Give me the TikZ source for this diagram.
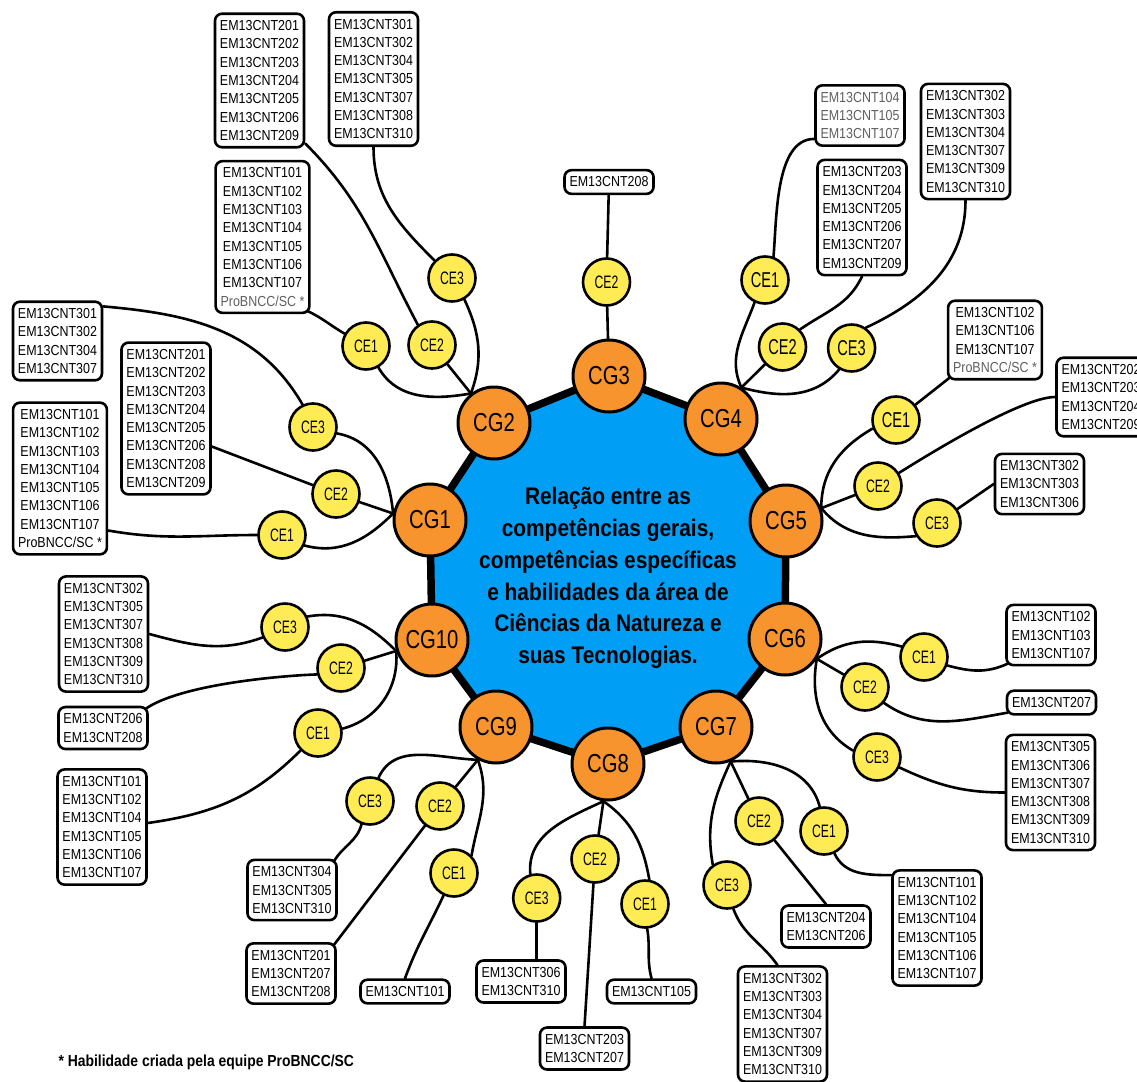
\documentclass[tikz,border=0pt]{standalone}
\usepackage{fontspec}
\setmainfont{Liberation Sans}
\newfontfamily\boxfont{Liberation Sans}[FakeStretch=0.86]
\newfontfamily\cefont{Liberation Sans}[FakeStretch=0.68]
\newfontfamily\cgfont{Liberation Sans}[FakeStretch=0.78]
\newfontfamily\titlefont{Liberation Sans}[FakeStretch=0.87]
\definecolor{cblue}{RGB}{0,158,245}
\definecolor{corange}{RGB}{247,148,45}
\definecolor{cyellow}{RGB}{255,236,85}
\definecolor{cgray}{RGB}{95,95,95}
\tikzset{
 cgnode/.style={circle, draw, line width=3pt, fill=corange, minimum size=72pt, inner sep=0pt, font=\cgfont\fontsize{26}{26}\selectfont},
 cenode/.style={circle, draw, line width=2.6pt, fill=cyellow, minimum size=47pt, inner sep=0pt, font=\cefont\fontsize{18}{18}\selectfont},
 cebig/.style={cenode, font=\cefont\fontsize{21.5}{21.5}\selectfont},
 hbox/.style={draw, line width=2.6pt, rounded corners=7pt, fill=white, align=center, inner xsep=5pt, inner ysep=6.7pt, font=\boxfont\fontsize{14.5}{18.3}\selectfont},
 conn/.style={line width=2.6pt, line cap=round},
}
\newcommand{\gr}[1]{{\color{cgray}#1}}
\begin{document}
\begin{tikzpicture}[x=1pt,y=1pt]
\useasboundingbox (0,0) rectangle (1137,-1081);
% decagon vertices
\coordinate (p1) at (430,-520);
\coordinate (p2) at (494,-423);
\coordinate (p3) at (609,-376);
\coordinate (p4) at (721,-419);
\coordinate (p5) at (786,-521);
\coordinate (p6) at (785,-639);
\coordinate (p7) at (716,-727);
\coordinate (p8) at (608,-764);
\coordinate (p9) at (496,-727);
\coordinate (p10) at (432,-640);
\draw[line width=7.5pt, line join=round, fill=cblue] (p1)--(p2)--(p3)--(p4)--(p5)--(p6)--(p7)--(p8)--(p9)--(p10)--cycle;
\node[align=center, font=\titlefont\bfseries\fontsize{24}{31.7}\selectfont] (title) at (608,-578)
 {Relação entre as\\competências gerais,\\competências específicas\\e habilidades da área de\\Ciências da Natureza e\\suas Tecnologias.};
% CG nodes
\node[cgnode] (cg1) at (p1) {CG1};
\node[cgnode] (cg2) at (p2) {CG2};
\node[cgnode] (cg3) at (p3) {CG3};
\node[cgnode] (cg4) at (p4) {CG4};
\node[cgnode] (cg5) at (p5) {CG5};
\node[cgnode] (cg6) at (p6) {CG6};
\node[cgnode] (cg7) at (p7) {CG7};
\node[cgnode] (cg8) at (p8) {CG8};
\node[cgnode] (cg9) at (p9) {CG9};
\node[cgnode] (cg10) at (p10) {CG10};
% CE nodes
\node[cenode] (c1c1) at (282,-535) {CE1};
\node[cenode] (c1c2) at (336,-494) {CE2};
\node[cenode] (c1c3) at (313,-427) {CE3};
\node[cenode] (c2c1) at (366,-346) {CE1};
\node[cenode] (c2c2) at (432,-345) {CE2};
\node[cenode] (c2c3) at (452,-278) {CE3};
\node[cenode] (c3c2) at (606.5,-282) {CE2};
\node[cebig] (c4c1) at (765,-280) {CE1};
\node[cebig] (c4c2) at (782.5,-347) {CE2};
\node[cebig] (c4c3) at (851.6,-348) {CE3};
\node[cebig] (c5c1) at (896,-420) {CE1};
\node[cenode] (c5c2) at (878,-486) {CE2};
\node[cenode] (c5c3) at (937,-523) {CE3};
\node[cenode] (c6c1) at (924,-657) {CE1};
\node[cenode] (c6c2) at (865,-687) {CE2};
\node[cenode] (c6c3) at (877,-757) {CE3};
\node[cenode] (c7c1) at (824,-831) {CE1};
\node[cenode] (c7c2) at (759,-821) {CE2};
\node[cenode] (c7c3) at (727,-885) {CE3};
\node[cenode] (c8c1) at (645,-904) {CE1};
\node[cenode] (c8c2) at (595,-859) {CE2};
\node[cenode] (c8c3) at (536.7,-898) {CE3};
\node[cenode] (c9c1) at (454,-873) {CE1};
\node[cenode] (c9c2) at (440,-806) {CE2};
\node[cenode] (c9c3) at (370,-801) {CE3};
\node[cenode] (c10c1) at (318,-733) {CE1};
\node[cenode] (c10c2) at (341,-668) {CE2};
\node[cenode] (c10c3) at (285,-627) {CE3};
% boxes
\node[hbox] (bA) at (259.5,-80.5) {EM13CNT201\\EM13CNT202\\EM13CNT203\\EM13CNT204\\EM13CNT205\\EM13CNT206\\EM13CNT209};
\node[hbox] (bB) at (373.5,-79) {EM13CNT301\\EM13CNT302\\EM13CNT304\\EM13CNT305\\EM13CNT307\\EM13CNT308\\EM13CNT310};
\node[hbox] (bC) at (262.5,-237) {EM13CNT101\\EM13CNT102\\EM13CNT103\\EM13CNT104\\EM13CNT105\\EM13CNT106\\EM13CNT107\\\gr{ProBNCC/SC *}};
\node[hbox] (bD) at (57.5,-341) {EM13CNT301\\EM13CNT302\\EM13CNT304\\EM13CNT307};
\node[hbox] (bE) at (166,-418.5) {EM13CNT201\\EM13CNT202\\EM13CNT203\\EM13CNT204\\EM13CNT205\\EM13CNT206\\EM13CNT208\\EM13CNT209};
\node[hbox] (bF) at (60,-478.5) {EM13CNT101\\EM13CNT102\\EM13CNT103\\EM13CNT104\\EM13CNT105\\EM13CNT106\\EM13CNT107\\ProBNCC/SC *};
\node[hbox] (b208) at (609,-182) {EM13CNT208};
\node[hbox] (bG) at (860,-115.5) {\gr{EM13CNT104}\\\gr{EM13CNT105}\\\gr{EM13CNT107}};
\node[hbox] (bH) at (862,-217.5) {EM13CNT203\\EM13CNT204\\EM13CNT205\\EM13CNT206\\EM13CNT207\\EM13CNT209};
\node[hbox] (bI) at (965.5,-141.5) {EM13CNT302\\EM13CNT303\\EM13CNT304\\EM13CNT307\\EM13CNT309\\EM13CNT310};
\node[hbox] (bJ) at (995,-340) {EM13CNT102\\EM13CNT106\\EM13CNT107\\\gr{ProBNCC/SC *}};
\node[hbox] (bK) at (1101,-397) {EM13CNT202\\EM13CNT203\\EM13CNT204\\EM13CNT209};
\node[hbox] (bL) at (1039.5,-484) {EM13CNT302\\EM13CNT303\\EM13CNT306};
\node[hbox] (bT) at (1051,-635) {EM13CNT102\\EM13CNT103\\EM13CNT107};
\node[hbox] (bU) at (1051.5,-702.5) {EM13CNT207};
\node[hbox] (bV) at (1050.5,-792.5) {EM13CNT305\\EM13CNT306\\EM13CNT307\\EM13CNT308\\EM13CNT309\\EM13CNT310};
\node[hbox] (bX) at (937,-928) {EM13CNT101\\EM13CNT102\\EM13CNT104\\EM13CNT105\\EM13CNT106\\EM13CNT107};
\node[hbox] (bW) at (826,-926.5) {EM13CNT204\\EM13CNT206};
\node[hbox] (bY) at (782.5,-1024) {EM13CNT302\\EM13CNT303\\EM13CNT304\\EM13CNT307\\EM13CNT309\\EM13CNT310};
\node[hbox] (bZ) at (651.5,-991.5) {EM13CNT105};
\node[hbox] (bAA) at (584.5,-1048.5) {EM13CNT203\\EM13CNT207};
\node[hbox] (bS) at (521,-981.5) {EM13CNT306\\EM13CNT310};
\node[hbox] (bR) at (405,-991.5) {EM13CNT101};
\node[hbox] (bQ) at (291,-973.5) {EM13CNT201\\EM13CNT207\\EM13CNT208};
\node[hbox] (bP) at (292,-890) {EM13CNT304\\EM13CNT305\\EM13CNT310};
\node[hbox] (bM) at (103.5,-634) {EM13CNT302\\EM13CNT305\\EM13CNT307\\EM13CNT308\\EM13CNT309\\EM13CNT310};
\node[hbox] (bN) at (103,-728) {EM13CNT206\\EM13CNT208};
\node[hbox] (bO) at (102,-827) {EM13CNT101\\EM13CNT102\\EM13CNT104\\EM13CNT105\\EM13CNT106\\EM13CNT107};
\node[anchor=west, font=\titlefont\bfseries\fontsize{16}{16}\selectfont] (note) at (55,-1062) {* Habilidade criada pela equipe ProBNCC/SC};
% connectors CG1
\draw[conn] ([yshift=-6pt]bD.north east) to[out=-5,in=120] (c1c3.115);
\draw[conn] (c1c3.-15) to[out=-10,in=95] (cg1.170);
\draw[conn] ([yshift=-28pt]bE.east) -- (c1c2);
\draw[conn] (c1c2) -- (cg1.170);
\draw[conn] ([yshift=-52pt]bF.east) to[out=-10,in=180] (c1c1.180);
\draw[conn] (c1c1.-25) to[out=-15,in=-135] (cg1.170);
% CG2
\draw[conn] (bB.south) to[out=-90,in=135] (c2c3.135);
\draw[conn] (c2c3.-60) to[out=-65,in=70] (cg2.128);
\draw[conn] (bA.-54) to[out=-45,in=118] (c2c2.125);
\draw[conn] (c2c2) -- (cg2.128);
\draw[conn] ([shift={(-3pt,3pt)}]bC.south east) to[out=-25,in=150] (c2c1.150);
\draw[conn] (c2c1.-60) to[out=-60,in=190] (cg2.128);
% CG3
\draw[conn] (b208) -- (c3c2);
\draw[conn] (c3c2) -- (cg3);
% CG4
\draw[conn] ([yshift=8pt]bG.south west) to[out=180,in=85,looseness=0.8] (c4c1.70);
\draw[conn] (c4c1.-115) to[out=-110,in=115] (cg4.57);
\draw[conn] (bH.south) to[out=-115,in=35] (c4c2.45);
\draw[conn] (c4c2) -- (cg4.57);
\draw[conn] (bI.south) to[out=-90,in=25] (c4c3.55);
\draw[conn] (c4c3.-120) to[out=-130,in=-15] (cg4.57);
% CG5
\draw[conn] ([shift={(3pt,3pt)}]bJ.south west) -- (c5c1);
\draw[conn] (c5c1.-160) to[out=-150,in=90] (cg5.20);
\draw[conn] (bK.west) to[out=180,in=32,looseness=0.5] (c5c2.32);
\draw[conn] (c5c2) -- (cg5.20);
\draw[conn] (bL.west) -- (c5c3);
\draw[conn] (c5c3.-148) to[out=185,in=-50] (cg5.20);
% CG6
\draw[conn] ([shift={(3pt,3pt)}]bT.south west) to[out=-155,in=-15] (c6c1.-20);
\draw[conn] (c6c1.155) to[out=165,in=35] (cg6.-32);
\draw[conn] ([shift={(2pt,3pt)}]bU.south west) to[out=190,in=-35] (c6c2.-40);
\draw[conn] (c6c2) -- (cg6.-32);
\draw[conn] (bV.west) to[out=180,in=-25] (c6c3.-25);
\draw[conn] (c6c3.165) to[out=150,in=-100] (cg6.-32);
% CG7
\draw[conn] ([yshift=-6pt]bX.north west) to[out=180,in=-65] (c7c1.-65);
\draw[conn] (c7c1.100) to[out=105,in=5] (cg7.-67);
\draw[conn] (bW.north) -- (c7c2);
\draw[conn] (c7c2) -- (cg7.-67);
\draw[conn] ([xshift=-5pt]bY.north) to[out=125,in=-70] (c7c3.-75);
\draw[conn] (c7c3.125) to[out=100,in=-115] (cg7.-67);
% CG8
\draw[conn] (bZ.north) to[out=105,in=-80] (c8c1.-85);
\draw[conn] (c8c1.80) to[out=100,in=-35] (cg8.-97);
\draw[conn] (bAA.north) -- (c8c2);
\draw[conn] (c8c2) -- (cg8.-97);
\draw[conn] (c8c3 |- bS.north) -- (c8c3);
\draw[conn] (c8c3.105) to[out=95,in=205] (cg8.-97);
% CG9
\draw[conn] ([shift={(-4pt,-3pt)}]bP.north east) to[out=60,in=-105] (c9c3.-110);
\draw[conn] (c9c3.70) to[out=65,in=178] (cg9.-119);
\draw[conn] ([shift={(-3pt,-3pt)}]bQ.north east) -- (c9c2);
\draw[conn] (c9c2) -- (cg9.-119);
\draw[conn] (bR.north) to[out=70,in=-115] (c9c1.-115);
\draw[conn] (c9c1.45) to[out=80,in=-70] (cg9.-119);
% CG10
\draw[conn] (bM.east) to[out=-15,in=200] (c10c3.205);
\draw[conn] (c10c3.25) to[out=10,in=135] (cg10.197);
\draw[conn] ([shift={(-3pt,-3pt)}]bN.north east) to[out=35,in=182,looseness=0.6] (c10c2.195);
\draw[conn] (c10c2) -- (cg10.197);
\draw[conn] ([yshift=4pt]bO.east) to[out=8,in=-135] (c10c1.-135);
\draw[conn] (c10c1.10) to[out=15,in=-85] (cg10.197);
\end{tikzpicture}
\end{document}
